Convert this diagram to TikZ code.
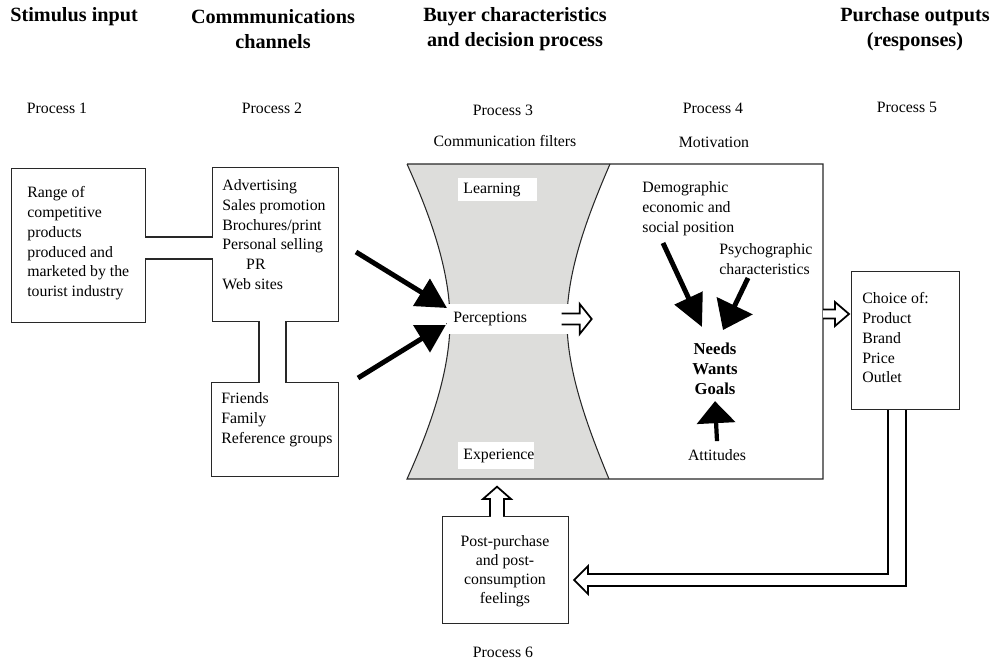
\documentclass[tikz,border=0pt]{standalone}
\usepackage{fontspec}
\setmainfont{Liberation Serif}
\usepackage{tikz}
\definecolor{filtergray}{RGB}{221, 221, 219}
\definecolor{linegray}{RGB}{40, 40, 40}
\usetikzlibrary{arrows.meta, calc}

\begin{document}
\begin{tikzpicture}[
    x=0.02cm, y=-0.02cm,
    box/.style={draw=linegray, line width=0.6pt, fill=white, inner sep=0pt, anchor=north west},
    line/.style={draw=linegray, line width=0.6pt},
    txt/.style={font=\fontsize{9}{11.3}\selectfont, align=left, inner sep=0pt},
    heading/.style={font=\fontsize{11.5}{14.2}\selectfont\bfseries, align=center, inner sep=0pt},
    solidarrow/.style={draw=black, line width=2.8pt},
    hollow/.style={draw=black, line width=1pt, line join=miter}
]
    \useasboundingbox (0,0) rectangle (992,666);

    % Column headings
    \node[heading, anchor=west] (hstim) at (10,17) {Stimulus input};
    \node[heading] (hchan) at (273,29.5) {Commmunications\\channels};
    \node[heading] (hbuyer) at (515,29.5) {Buyer characteristics\\and decision process};
    \node[heading] (hout) at (915,29.5) {Purchase outputs\\(responses)};

    % Process labels
    \node[txt] (p1) at (57,108) {Process 1};
    \node[txt] (p2) at (272,108) {Process 2};
    \node[txt] (p3) at (503,110) {Process 3};
    \node[txt] (p4) at (713,108) {Process 4};
    \node[txt] (p5) at (907,107) {Process 5};
    \node[txt] (filters) at (505,141) {Communication filters};
    \node[txt] (motiv) at (714,142) {Motivation};
    \node[txt] (p6) at (503,652) {Process 6};

    % Stimulus and channel boxes
    \node[box, minimum width=2.68cm, minimum height=3.08cm] (range) at (11,168) {};
    \node[box, minimum width=2.52cm, minimum height=3.08cm] (media) at (212,167) {};
    \node[box, minimum width=2.54cm, minimum height=1.88cm] (social) at (211,382) {};

    % Pipes joining the boxes
    \fill[white] (144,237.8) rectangle (213,258.2);
    \draw[line] (range.east |- 0,237) -- (media.west |- 0,237);
    \draw[line] (range.east |- 0,259) -- (media.west |- 0,259);
    \fill[white] (259.8,320) rectangle (285.2,383);
    \draw[line] (media.south -| 259,0) -- (social.north -| 259,0);
    \draw[line] (media.south -| 286,0) -- (social.north -| 286,0);

    \node[txt, anchor=north west] (rangetxt) at (27,186) {Range of\\competitive\\products\\produced and\\marketed by the\\tourist industry};
    \node[txt, anchor=north west] (mediatxt) at (222,179) {Advertising\\Sales promotion\\Brochures/print\\Personal selling\\\hspace*{13.6pt}PR\\Web sites};
    \node[txt, anchor=north west] (socialtxt) at (221,392) {Friends\\Family\\Reference groups};

    % Filters (hourglass) and motivation area
    \fill[filtergray] (407,164) .. controls (430,215) and (450,270) .. (450,321)
        .. controls (450,372) and (430,428) .. (407,479) -- (609,479)
        .. controls (588,428) and (567,372) .. (567,321)
        .. controls (567,270) and (588,215) .. (610,164) -- cycle;
    \draw[line] (407,164) -- (823,164) -- (823,479) -- (407,479)
        .. controls (430,428) and (450,372) .. (450,321)
        .. controls (450,270) and (430,215) .. (407,164);
    \draw[line] (610,164) .. controls (588,215) and (567,270) .. (567,321)
        .. controls (567,372) and (588,428) .. (609,479);
    \coordinate (mainright) at (823,314);

    \node[txt, fill=white, anchor=north west, minimum height=0.46cm, text width=1.38cm, inner xsep=0.1cm] (learn) at (458,178) {Learning};
    \node[txt, fill=white, anchor=north west, minimum height=0.54cm, text width=1.32cm, inner xsep=0.1cm] (exper) at (458,442) {Experience};
    \node[txt, fill=white, anchor=west, minimum height=0.6cm, text width=2.22cm, inner xsep=0.12cm] (perc) at (447,319) {Perceptions};

    % Channels into perceptions
    \coordinate (mediaout) at (356,252);
    \coordinate (socialout) at (358,378);
    \draw[solidarrow, -{Triangle[length=0.6cm, width=0.62cm]}] (mediaout) -- ($(perc.west)+(0,-11)$);
    \draw[solidarrow, -{Triangle[length=0.6cm, width=0.62cm]}] (socialout) -- ($(perc.west)+(0,4)$);
    \fill[white] (400,315.5) rectangle (446,324.5);

    \draw[hollow, fill=white] ($(perc.east)+(-9,0)$) ++(0,-5.5) -- ++(18,0) -- ++(0,-9.5) -- ++(12,15) -- ++(-12,15) -- ++(0,-9.5) -- ++(-18,0);

    % Motivation
    \node[txt, anchor=north west] (demo) at (642,181) {Demographic\\economic and\\social position};
    \node[txt, anchor=north west] (psych) at (719,243) {Psychographic\\characteristics};
    \node[txt, anchor=north, align=center, font=\fontsize{9.5}{11.3}\selectfont\bfseries] (needs) at (715,343) {Needs\\Wants\\Goals};
    \node[txt] (att) at (717,455) {Attitudes};
    \coordinate (demoout) at (663,243);
    \coordinate (psychout) at (748,278);
    \draw[solidarrow, -{Triangle[length=0.64cm, width=0.6cm]}] (demoout) -- ($(needs.north)+(-13,-16)$);
    \draw[solidarrow, -{Triangle[length=0.54cm, width=0.78cm]}] (psychout) -- ($(needs.north)+(8,-13)$);
    \draw[solidarrow, line width=2.4pt, -{Triangle[length=0.44cm, width=0.76cm]}] ($(att.north)+(0,-8)$) -- ($(needs.south)+(0,6)$);

    % Purchase outputs
    \node[box, minimum width=2.16cm, minimum height=2.76cm] (choice) at (851,271) {};
    \node[txt, anchor=north west] (choicetxt) at (862,292) {Choice of:\\Product\\Brand\\Price\\Outlet};
    \draw[hollow, fill=white] (mainright) ++(0,-4.5) -- ++(12,0) -- ++(0,-7.5) -- ++(14,12) -- ++(-14,12) -- ++(0,-7.5) -- ++(-12,0);

    % Feedback loop
    \node[box, minimum width=2.52cm, minimum height=2.14cm] (post) at (442,516) {};
    \node[txt, anchor=north, align=center, font=\fontsize{9}{10.8}\selectfont] (posttxt) at (505,535) {Post-purchase\\and post-\\consumption\\feelings};
    \draw[hollow] (choice.south -| 888,0) -- (888,574) -- (588,574) -- (588,566)
        -- ($(post.east |- 0,580)+(5,0)$) -- (588,594) -- (588,586) -- (906,586) -- (choice.south -| 906,0);
    \fill[white] (490.8,515) rectangle (503.2,517.5);
    \draw[hollow] (post.north -| 490,0) -- (490,499) -- (483,499) -- ($(exper.south -| 497,0)+(0,17)$)
        -- (511,499) -- (504,499) -- (post.north -| 504,0);
\end{tikzpicture}
\end{document}
